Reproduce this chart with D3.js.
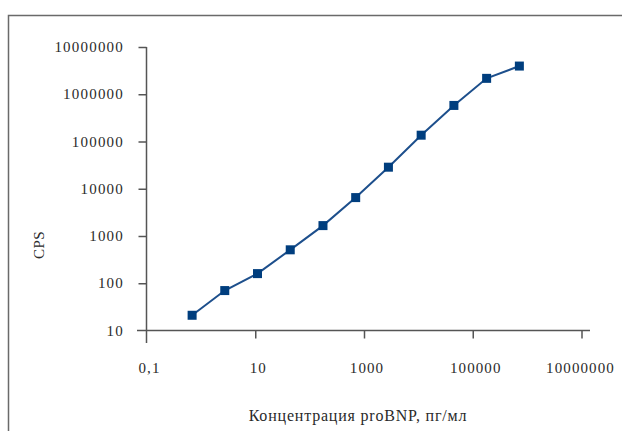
<!DOCTYPE html>
<html>
<head>
<meta charset="utf-8">
<script src="https://cdn.jsdelivr.net/npm/d3@7/dist/d3.min.js"></script>
<style>
  html, body { margin: 0; padding: 0; background: #fff; }
  svg text { font-family: "Liberation Serif", "DejaVu Serif", serif; fill: #2a2a2a; }
</style>
</head>
<body>
<svg id="chart" width="622" height="431"></svg>
<script>
// proBNP calibration curve (4-fold dilution series)
const concentration = [0.69, 2.75, 11, 44, 176, 703, 2813, 11250, 45000, 180000, 720000];
const cps = [21, 70, 160, 510, 1660, 6500, 28600, 136000, 580000, 2170000, 3950000];
const xTicks = [0.1, 10, 1000, 100000, 10000000];
const yTicks = [10, 100, 1000, 10000, 100000, 1000000, 10000000];
const xTitle = "Концентрация proBNP, пг/мл";
const yTitle = "CPS";

const svg = d3.select("#chart");
const axisColor = "#555";

// outer frame (open on the right and bottom edges of the page)
svg.append("path")
  .attr("d", "M8.5,431 V15.5 H622")
  .attr("fill", "none")
  .attr("stroke", "#6a6a6a")
  .attr("stroke-width", 1.5);

const x = d3.scaleLog().domain([0.1, 1e7]).range([146.5, 581.5]);
const y = d3.scaleLog().domain([10, 1e7]).range([330.5, 47]);

// axes
const gx = svg.append("g").attr("transform", `translate(0,${y(10)})`)
  .call(d3.axisBottom(x).tickValues(xTicks.slice(1)).tickSize(8).tickFormat(""));
const gy = svg.append("g").attr("transform", `translate(${x(0.1)},0)`)
  .call(d3.axisLeft(y).tickValues(yTicks.slice(1)).tickSize(8).tickFormat(""));
[gx, gy].forEach(g => {
  g.select(".domain").remove();
  g.selectAll(".tick line").attr("stroke", axisColor).attr("stroke-width", 1.5);
});

// axis lines cross at the origin and run past it
svg.append("line")
  .attr("x1", x(0.1) - 9.5).attr("x2", x(1e7) + 8.5)
  .attr("y1", y(10)).attr("y2", y(10))
  .attr("stroke", axisColor).attr("stroke-width", 1.5);
svg.append("line")
  .attr("x1", x(0.1)).attr("x2", x(0.1))
  .attr("y1", y(1e7)).attr("y2", y(10) + 12.5)
  .attr("stroke", axisColor).attr("stroke-width", 1.5);

// tick labels
const fmtX = d => d < 1 ? String(d).replace(".", ",") : String(d);
svg.append("g").selectAll("text").data(xTicks).join("text")
  .attr("x", d => x(d) + (d >= 1e7 ? -1 : 3))
  .attr("y", 373)
  .attr("text-anchor", "middle")
  .attr("font-size", 15)
  .attr("letter-spacing", 1.1)
  .text(fmtX);

svg.append("g").selectAll("text").data(yTicks).join("text")
  .attr("x", 124)
  .attr("y", d => y(d) + 5)
  .attr("text-anchor", "end")
  .attr("font-size", 15)
  .attr("letter-spacing", 1.2)
  .text(d => String(d));

// axis titles
svg.append("text")
  .attr("x", 358)
  .attr("y", 421)
  .attr("text-anchor", "middle")
  .attr("font-size", 16)
  .attr("letter-spacing", 0.8)
  .text(xTitle);

svg.append("text")
  .attr("transform", "translate(44,245) rotate(-90)")
  .attr("text-anchor", "middle")
  .attr("font-size", 15)
  .attr("letter-spacing", 0.5)
  .text(yTitle);

// curve
const pts = concentration.map((c, i) => [c, cps[i]]);
svg.append("path")
  .datum(pts)
  .attr("fill", "none")
  .attr("stroke", "#1d4f8c")
  .attr("stroke-width", 2)
  .attr("d", d3.line().x(d => x(d[0])).y(d => y(d[1])));

svg.append("g").selectAll("rect").data(pts).join("rect")
  .attr("x", d => x(d[0]) - 4.5)
  .attr("y", d => y(d[1]) - 4.5)
  .attr("width", 9)
  .attr("height", 9)
  .attr("fill", "#003e7e");
</script>
</body>
</html>
